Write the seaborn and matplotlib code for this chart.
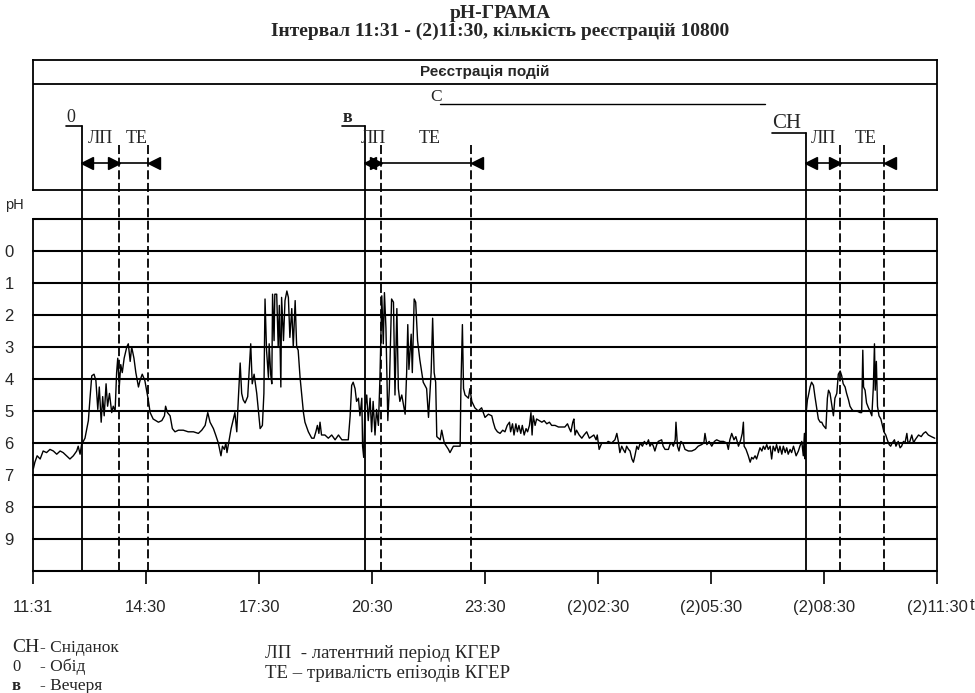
import matplotlib
matplotlib.use("Agg")
import matplotlib.pyplot as plt
import seaborn as sns
import pandas as pd

# time = hours after 11:30
t_hours = [
    0.01, 0.05, 0.11, 0.19, 0.27, 0.36, 0.45, 0.54, 0.63, 0.72, 0.80, 0.89, 0.98, 1.07, 1.16, 1.20,
    1.25, 1.29, 1.38, 1.47, 1.51, 1.56, 1.62, 1.67, 1.72, 1.76, 1.81, 1.85, 1.89, 1.94, 1.98, 2.03,
    2.09, 2.13, 2.18, 2.22, 2.25, 2.29, 2.33, 2.37, 2.42, 2.49, 2.53, 2.58, 2.62, 2.68, 2.73, 2.80,
    2.84, 2.90, 2.97, 3.06,
    3.11, 3.19, 3.33, 3.42, 3.49, 3.52, 3.57, 3.64, 3.70, 3.77, 3.86, 3.99, 4.12, 4.26, 4.39, 4.48,
    4.57, 4.64, 4.70, 4.79, 4.85, 4.92, 4.99, 5.03, 5.08, 5.12, 5.15, 5.20, 5.26, 5.32, 5.36, 5.41,
    5.45, 5.50, 5.54, 5.58, 5.63, 5.70, 5.74, 5.78, 5.82, 5.87, 5.94, 6.03, 6.09, 6.13,
    6.16, 6.20, 6.25, 6.27, 6.31, 6.34, 6.36, 6.40, 6.42, 6.47, 6.51, 6.54, 6.58, 6.60, 6.65, 6.69,
    6.74, 6.78, 6.82, 6.87, 6.91, 6.96, 7.00, 7.04, 7.09, 7.13, 7.18, 7.22, 7.31, 7.40, 7.46, 7.51,
    7.55, 7.59, 7.62, 7.66, 7.75, 7.84, 7.93, 8.02, 8.11, 8.20, 8.37, 8.42, 8.46, 8.50, 8.55, 8.59,
    8.64, 8.68, 8.73, 8.75, 8.78, 8.81, 8.86, 8.90, 8.95, 8.99, 9.03, 9.08, 9.12, 9.17,
    9.21, 9.26, 9.30, 9.33, 9.37, 9.42, 9.46, 9.52, 9.57, 9.61, 9.66, 9.70, 9.74, 9.79, 9.88, 9.92,
    9.95, 9.98, 10.04, 10.07, 10.12, 10.16, 10.21, 10.27, 10.36, 10.45, 10.50, 10.57, 10.61, 10.65,
    10.69, 10.72, 10.81, 10.85, 10.92, 11.03, 11.07, 11.16, 11.25, 11.34, 11.36, 11.40, 11.43, 11.47,
    11.56, 11.60, 11.65, 11.73, 11.82, 11.91, 12.00, 12.09,
    12.18, 12.22, 12.27, 12.33, 12.40, 12.47, 12.53, 12.59, 12.65, 12.68, 12.73, 12.77, 12.82, 12.86,
    12.90, 12.95, 12.99, 13.04, 13.09, 13.13, 13.18, 13.22, 13.25, 13.28, 13.33, 13.37, 13.44, 13.51,
    13.57, 13.64, 13.71, 13.77, 13.86, 13.95, 14.04, 14.12, 14.19, 14.24, 14.28, 14.33, 14.36, 14.39,
    14.43, 14.50, 14.57, 14.63, 14.70, 14.77, 14.83, 14.89, 14.95, 14.98, 15.03, 15.10, 15.23,
    15.27, 15.36, 15.45, 15.50, 15.54, 15.58, 15.63, 15.67, 15.72, 15.76, 15.81, 15.85, 15.90, 15.94,
    15.98, 16.03, 16.07, 16.12, 16.18, 16.23, 16.29, 16.34, 16.38, 16.43, 16.47, 16.51, 16.56, 16.60,
    16.69, 16.73, 16.78, 16.87, 16.91, 16.96, 17.00, 17.05, 17.07, 17.11, 17.15, 17.20, 17.25, 17.31,
    17.40, 17.49, 17.58, 17.66, 17.75, 17.81, 17.84, 17.89, 17.95, 18.02, 18.09, 18.15, 18.24,
    18.33, 18.42, 18.46, 18.50, 18.55, 18.61, 18.66, 18.73, 18.79, 18.83, 18.86, 18.88, 18.93, 18.99,
    19.04, 19.08, 19.12, 19.17, 19.21, 19.26, 19.30, 19.35, 19.39, 19.43, 19.48, 19.52, 19.57, 19.61,
    19.65, 19.70, 19.74, 19.79, 19.83, 19.88, 19.92, 19.97, 20.01, 20.05, 20.10, 20.14, 20.19, 20.26,
    20.32, 20.36, 20.41, 20.45, 20.48, 20.50, 20.52, 20.56, 20.58, 20.63, 20.67, 20.72, 20.76, 20.81,
    20.85, 20.90, 20.94, 20.98, 21.05, 21.09, 21.12, 21.16, 21.21, 21.25, 21.29,
    21.34, 21.38, 21.43, 21.47, 21.51, 21.56, 21.60, 21.65, 21.69, 21.74, 21.78, 21.87, 21.96, 22.00,
    22.03, 22.05, 22.09, 22.13, 22.18, 22.22, 22.27, 22.31, 22.34, 22.36, 22.39, 22.42, 22.46, 22.51,
    22.55, 22.59, 22.64, 22.68, 22.73, 22.77, 22.81, 22.87, 22.91, 22.97, 23.02, 23.06, 23.11, 23.15,
    23.20, 23.23, 23.28, 23.33, 23.38, 23.42, 23.51, 23.58, 23.64, 23.70, 23.77, 23.85, 23.94,
]
ph = [
    6.8, 6.6, 6.4, 6.5, 6.25, 6.3, 6.2, 6.25, 6.35, 6.25, 6.3, 6.4, 6.5, 6.4, 6.25, 6.1,
    6.35, 6.05, 5.85, 5.3, 4.65, 3.9, 3.85, 4.05, 4.95, 4.25, 5.35, 4.55, 5.15, 4.15, 4.85, 4.45,
    5.05, 4.85, 5.0, 3.8, 3.35, 4.25, 3.55, 3.8, 3.35, 3.0, 2.9, 3.45, 3.0, 3.35, 3.8, 4.25,
    4.05, 3.85, 4.05, 4.65,
    5.05, 5.25, 5.35, 5.3, 5.15, 4.85, 5.05, 5.15, 5.55, 5.65, 5.6, 5.6, 5.65, 5.65, 5.7, 5.6,
    5.45, 5.05, 5.35, 5.55, 5.75, 6.0, 6.4, 6.1, 6.2, 6.0, 6.3, 5.95, 5.55, 5.25, 5.05, 5.65,
    4.65, 3.5, 4.45, 4.65, 4.75, 4.55, 3.75, 2.9, 4.15, 3.85, 4.45, 5.55, 5.45, 4.45,
    1.5, 3.1, 3.95, 2.9, 3.85, 4.15, 1.35, 2.8, 1.35, 1.35, 3.0, 1.7, 4.25, 1.45, 2.8, 1.55,
    1.25, 1.45, 2.7, 1.8, 3.0, 1.55, 3.0, 3.1, 3.95, 4.45, 5.05, 5.35, 5.65, 5.85, 5.85, 5.65,
    5.45, 5.7, 5.35, 5.75, 5.75, 5.85, 5.75, 5.9, 5.75, 5.9, 5.9, 5.15, 4.2, 4.1, 4.3, 4.7,
    4.6, 5.15, 4.6, 6.1, 6.45, 4.95, 4.5, 5.3, 4.6, 5.65, 4.7, 5.75, 4.95, 5.45,
    4.0, 1.4, 2.9, 1.3, 2.4, 5.3, 4.3, 1.5, 1.6, 4.5, 1.8, 4.3, 4.7, 4.5, 5.1, 3.8,
    2.3, 3.7, 2.6, 3.8, 1.5, 1.6, 2.8, 3.4, 4.1, 4.3, 5.2, 3.8, 2.1, 3.8,
    4.1, 5.8, 5.9, 5.6, 6.0, 6.2, 6.3, 6.1, 6.1, 6.1, 4.3, 2.3, 4.3, 4.5,
    4.6, 4.3, 4.7, 4.9, 5.0, 4.9, 5.2, 5.1,
    5.15, 5.35, 5.55, 5.65, 5.7, 5.6, 5.65, 5.45, 5.35, 5.65, 5.4, 5.75, 5.4, 5.65,
    5.45, 5.7, 5.45, 5.75, 5.55, 5.65, 5.45, 5.05, 5.75, 5.15, 5.45, 5.25, 5.3, 5.35,
    5.3, 5.4, 5.35, 5.45, 5.45, 5.5, 5.5, 5.5, 5.4, 5.55, 5.65, 5.35, 5.25, 5.75,
    5.6, 5.75, 5.85, 5.75, 5.65, 5.85, 5.8, 5.75, 5.9, 5.75, 6.2, 6.0, 6.0,
    5.95, 6.0, 5.9, 5.7, 5.95, 6.3, 6.1, 6.2, 6.3, 6.1, 6.2, 6.25, 6.5, 6.6,
    6.4, 6.1, 6.2, 6.0, 6.1, 5.95, 6.05, 5.9, 6.1, 6.0, 6.1, 6.25, 6.05, 5.95,
    5.9, 6.1, 6.2, 6.2, 6.05, 6.0, 6.1, 5.9, 5.35, 6.1, 6.25, 5.95, 6.0, 6.2,
    6.25, 6.25, 6.2, 6.1, 6.05, 6.0, 5.7, 6.05, 5.95, 6.1, 5.95, 5.9, 5.95,
    5.95, 6.0, 6.2, 5.9, 5.7, 5.9, 5.8, 6.1, 5.9, 5.7, 5.35, 6.1, 6.2, 6.4,
    6.6, 6.45, 6.5, 6.4, 6.5, 6.3, 6.15, 6.25, 6.1, 6.2, 6.05, 6.2, 6.1, 6.5,
    6.1, 6.25, 6.05, 6.3, 6.1, 6.35, 6.1, 6.3, 6.15, 6.35, 6.2, 6.3, 6.1, 6.4,
    6.25, 6.1, 5.95, 6.4, 5.7, 6.5, 5.15, 4.65, 4.55, 4.25, 4.1, 4.2, 4.55, 4.95,
    5.25, 5.35, 5.35, 5.45, 5.55, 4.6, 4.35, 4.45, 4.85, 5.15, 4.6,
    4.45, 3.85, 3.75, 3.9, 4.15, 4.25, 4.45, 4.65, 4.85, 4.95, 5.0, 5.0, 5.05, 5.05,
    3.1, 4.25, 4.35, 4.75, 4.9, 5.0, 5.15, 4.25, 2.9, 4.35, 3.45, 4.85, 5.15, 5.25,
    5.45, 5.65, 5.75, 5.9, 6.05, 6.1, 6.0, 5.9, 6.1, 5.95, 6.15, 6.1, 5.95, 6.0,
    5.7, 6.0, 5.95, 5.75, 6.0, 5.9, 5.75, 5.8, 5.7, 5.65, 5.75, 5.8, 5.85,
]

tick_hours = [0, 3, 6, 9, 12, 15, 18, 21, 24]
tick_labels = ["11:31", "14:30", "17:30", "20:30", "23:30",
               "(2)02:30", "(2)05:30", "(2)08:30", "(2)11:30"]

# events: meal start, end of latent period, end of reflux episodes
meal_names = ["0", "в", "СН"]
meal_start = [1.30, 8.81, 20.52]
lp_end = [2.28, 9.24, 21.43]
te_end = [3.05, 11.63, 22.59]
sleep_start, sleep_end = 10.80, 19.43

sns.set_style("white")
plt.rcParams["font.family"] = ["Liberation Sans Narrow", "Liberation Sans", "DejaVu Sans"]
serif = ["Liberation Serif", "DejaVu Serif"]

fig = plt.figure(figsize=(9.75, 6.93), dpi=100)
ax = fig.add_axes([33 / 975, 122 / 693, 904 / 975, 352 / 693])
ax_ev = fig.add_axes([33 / 975, 503 / 693, 904 / 975, 130 / 693], sharex=ax)

df = pd.DataFrame({"t": t_hours, "ph": ph})
sns.lineplot(data=df, x="t", y="ph", ax=ax, color="black", lw=1.0,
             estimator=None, sort=False)

ax.set_xlim(0, 24)
ax.set_ylim(10, -1)
for y in range(-1, 11):
    ax.axhline(y, color="black", lw=1.5, zorder=1, clip_on=False)
for s in ["left", "right"]:
    ax.spines[s].set_color("black")
    ax.spines[s].set_linewidth(1.3)
ax.spines["top"].set_visible(False)
ax.spines["bottom"].set_visible(False)
ax.set_yticks(range(0, 10))
ax.set_yticklabels([str(v) for v in range(0, 10)], fontsize=12)
ax.set_xticks(tick_hours)
ax.set_xticklabels(tick_labels, fontsize=12)
ax.tick_params(axis="y", length=0, pad=14)
ax.tick_params(axis="x", length=9, width=1.2, color="black", direction="out", pad=12)
ax.xaxis.set_ticks_position("bottom")
ax.set_xlabel("")
ax.set_ylabel("")
ax.text(-0.021, 1.04, "pH", transform=ax.transAxes, fontsize=10.5, ha="center", va="center")
fig.text(0.995, 1 - 605 / 693, "t", fontsize=12, ha="left", va="center")

for m, l, e in zip(meal_start, lp_end, te_end):
    ax.axvline(m, color="black", lw=1.3)
    ax.axvline(l, color="black", lw=1.3, ls=(0, (5, 2)))
    ax.axvline(e, color="black", lw=1.3, ls=(0, (5, 2)))

# event register box
ax_ev.set_ylim(0, 1)
ax_ev.set_yticks([])
ax_ev.tick_params(axis="x", length=0, labelbottom=False)
for s in ax_ev.spines.values():
    s.set_color("black")
    s.set_linewidth(1.3)
ax_ev.axhline(0.815, color="black", lw=1.3)
ax_ev.text(12, 0.905, "Реєстрація подій", fontsize=11, fontweight="bold",
           ha="center", va="center")

ax_ev.text(sleep_start - 0.25, 0.655, "С", family=serif, fontsize=12.5, ha="left", va="bottom")
ax_ev.plot([sleep_start, sleep_end], [0.665, 0.665], color="black", lw=1.0)

label_shift = [0.42, 0.6, 0.9]
hook_y = [0.49, 0.49, 0.44]
for name, m, l, e, sh, hy in zip(meal_names, meal_start, lp_end, te_end, label_shift, hook_y):
    ax_ev.plot([m - sh, m], [hy, hy], color="black", lw=1.2)
    ax_ev.plot([m, m], [hy, -0.225], color="black", lw=1.3, clip_on=False)
    for x in (l, e):
        ax_ev.plot([x, x], [0.35, -0.225], color="black", lw=1.3, ls=(0, (5, 2)), clip_on=False)
    ax_ev.text(m - sh, hy, name, family=serif, fontsize=15 if name == "СН" else 13,
               fontweight="bold" if name == "в" else "normal", ha="left", va="bottom")
    ax_ev.text((m + l) / 2, 0.33, "ЛП", family=serif, fontsize=13, ha="center", va="bottom")
    ax_ev.text((l + e) / 2 + 0.1, 0.33, "TE", family=serif, fontsize=13, ha="center", va="bottom")
    ax_ev.plot([m, e], [0.21, 0.21], color="black", lw=1.2)
    ax_ev.plot([m + 0.13], [0.21], marker="<", color="black", ms=8)
    ax_ev.plot([l - 0.13], [0.21], marker=">", color="black", ms=8)
    ax_ev.plot([e + 0.17], [0.21], marker="<", color="black", ms=8)

fig.text(0.513, 1 - 13 / 693, "pH-ГРАМА", family=serif, fontsize=14, fontweight="bold",
         ha="center", va="center")
fig.text(0.513, 1 - 31 / 693, "Інтервал 11:31 - (2)11:30, кількість реєстрацій 10800",
         family=serif, fontsize=14, fontweight="bold", ha="center", va="center")

legend_left = [("СН", "- Сніданок"), ("0", "- Обід"), ("в", "- Вечеря")]
for i, (sym, desc) in enumerate(legend_left):
    y = 1 - (648 + 19 * i) / 693
    fig.text(12 / 975, y, sym, family=serif, fontsize=14 if sym == "СН" else 12,
             fontweight="bold" if sym == "в" else "normal", va="center")
    fig.text(40 / 975, y, desc, family=serif, fontsize=12.5, va="center")
legend_right = ["ЛП  - латентний період КГЕР", "TE – тривалість епізодів КГЕР"]
for i, txt in enumerate(legend_right):
    fig.text(265 / 975, 1 - (653 + 20 * i) / 693, txt, family=serif, fontsize=13.5, va="center")

fig.savefig("out.png", dpi=100)
